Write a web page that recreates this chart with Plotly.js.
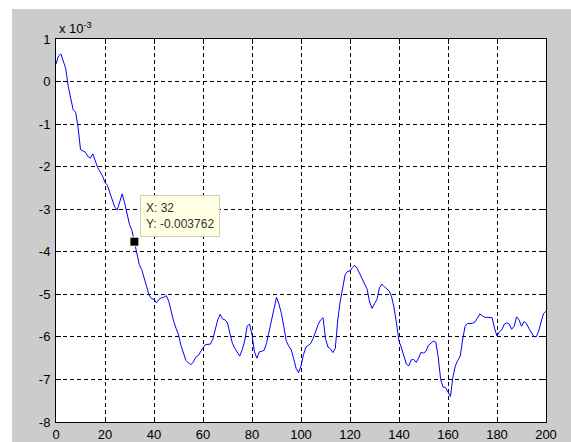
<!DOCTYPE html>
<html>
<head>
<meta charset="utf-8">
<script src="https://cdn.plot.ly/plotly-3.0.1.min.js"></script>
<style>
  html, body { margin: 0; padding: 0; background: #ffffff; width: 571px; height: 442px; overflow: hidden; }
  #fig { position: absolute; left: 12px; top: 9px; width: 559px; height: 433px; }
</style>
</head>
<body>
<div id="fig"></div>
<script>
// values in units of 1e-3, one per x = 0..200
const yValues = [
  0.41, 0.6, 0.65, 0.49, 0.3, -0.12, -0.43, -0.66, -0.72, -1.07,
  -1.6, -1.64, -1.66, -1.76, -1.8, -1.7, -1.85, -2.02, -2.12, -2.22,
  -2.37, -2.44, -2.62, -2.77, -2.95, -3.02, -2.82, -2.64, -2.85, -3.1,
  -3.36, -3.5, -3.762, -4.1, -4.3, -4.42, -4.6, -4.82, -5.02, -5.1,
  -5.12, -5.2, -5.12, -5.08, -5.07, -5.03, -5.16, -5.42, -5.63, -5.8,
  -5.95, -6.2, -6.4, -6.55, -6.61, -6.65, -6.6, -6.48, -6.44, -6.34,
  -6.26, -6.18, -6.18, -6.17, -6.06, -5.86, -5.6, -5.47, -5.58, -5.6,
  -5.67, -5.92, -6.15, -6.27, -6.36, -6.45, -6.3, -6.1, -5.75, -5.7,
  -5.95, -6.35, -6.5, -6.35, -6.34, -6.31, -6.13, -5.87, -5.6, -5.3,
  -5.07, -5.23, -5.45, -5.76, -6.1, -6.22, -6.3, -6.51, -6.74, -6.84,
  -6.68, -6.42, -6.24, -6.2, -6.15, -6.03, -5.85, -5.71, -5.6, -5.55,
  -6.04, -6.24, -6.28, -6.37, -6.27, -5.6, -5.17, -4.8, -4.54, -4.46,
  -4.45, -4.37, -4.32, -4.4, -4.52, -4.64, -4.76, -4.88, -5.18, -5.33,
  -5.22, -5.12, -4.85, -4.76, -4.82, -4.86, -4.92, -5.06, -5.32, -5.69,
  -6.1, -6.26, -6.45, -6.64, -6.68, -6.54, -6.53, -6.6, -6.5, -6.36,
  -6.38, -6.34, -6.2, -6.14, -6.1, -6.12, -6.47, -7.0, -7.18, -7.19,
  -7.3, -7.4, -6.95, -6.68, -6.55, -6.45, -6.05, -5.75, -5.68, -5.69,
  -5.68, -5.65, -5.56, -5.46, -5.5, -5.54, -5.54, -5.54, -5.55, -5.8,
  -5.98, -5.88, -5.83, -5.7, -5.67, -5.7, -5.82, -5.75, -5.53, -5.6,
  -5.75, -5.64, -5.68, -5.8, -5.9, -5.99, -6.0, -5.87, -5.65, -5.45,
  -5.4
];
const xValues = yValues.map((_, i) => i);
const xTicks = [0, 20, 40, 60, 80, 100, 120, 140, 160, 180, 200];
const yTicks = [1, 0, -1, -2, -3, -4, -5, -6, -7, -8];
const tipX = 32;
const tipY = -3.762;
const tipLabel = "X: 32<br>Y: -0.003762";
const exponentLabel = "x 10<sup>-3</sup>";

const font = "Liberation Sans, Arial, sans-serif";

const traces = [
  {
    x: xValues, y: yValues, type: "scatter", mode: "lines",
    line: { color: "#0000ff", width: 1 }, hoverinfo: "skip"
  },
  {
    x: [tipX], y: [tipY], type: "scatter", mode: "markers",
    marker: { symbol: "square", size: 9, color: "#000000", line: { color: "#ffffe1", width: 1 } },
    hoverinfo: "skip"
  }
];

const axisCommon = {
  showline: true, linecolor: "#000000", linewidth: 1, mirror: "allticks",
  ticks: "inside", ticklen: 5, tickcolor: "#000000", tickwidth: 1,
  showgrid: true, gridcolor: "#000000", gridwidth: 1, griddash: "4px,3px",
  zeroline: false, tickfont: { family: font, size: 13, color: "#000000" },
  fixedrange: true
};

const layout = {
  width: 559, height: 433,
  paper_bgcolor: "#cccccc", plot_bgcolor: "#ffffff",
  margin: { l: 44, r: 24.5, t: 29.5, b: 20 },
  showlegend: false,
  xaxis: Object.assign({}, axisCommon, {
    range: [0, 200], tickvals: xTicks, ticktext: xTicks.map(String)
  }),
  yaxis: Object.assign({}, axisCommon, {
    range: [-8, 1], tickvals: yTicks, ticktext: yTicks.map(String), ticklabelstandoff: 2
  }),
  annotations: [
    {
      xref: "paper", yref: "paper", x: 0, y: 1, xanchor: "left", yanchor: "bottom",
      xshift: 1, yshift: 1, text: exponentLabel, showarrow: false,
      font: { family: font, size: 13, color: "#000000" }
    },
    {
      xref: "x", yref: "y", x: tipX, y: tipY, xanchor: "left", yanchor: "bottom",
      xshift: 6, yshift: 5, text: tipLabel, showarrow: false, align: "left",
      bgcolor: "#ffffe1", bordercolor: "#d0d0c0", borderwidth: 1, borderpad: 5,
      font: { family: font, size: 12, color: "#333333" }
    }
  ]
};

Plotly.newPlot("fig", traces, layout, { displayModeBar: false, staticPlot: true });
</script>
</body>
</html>
